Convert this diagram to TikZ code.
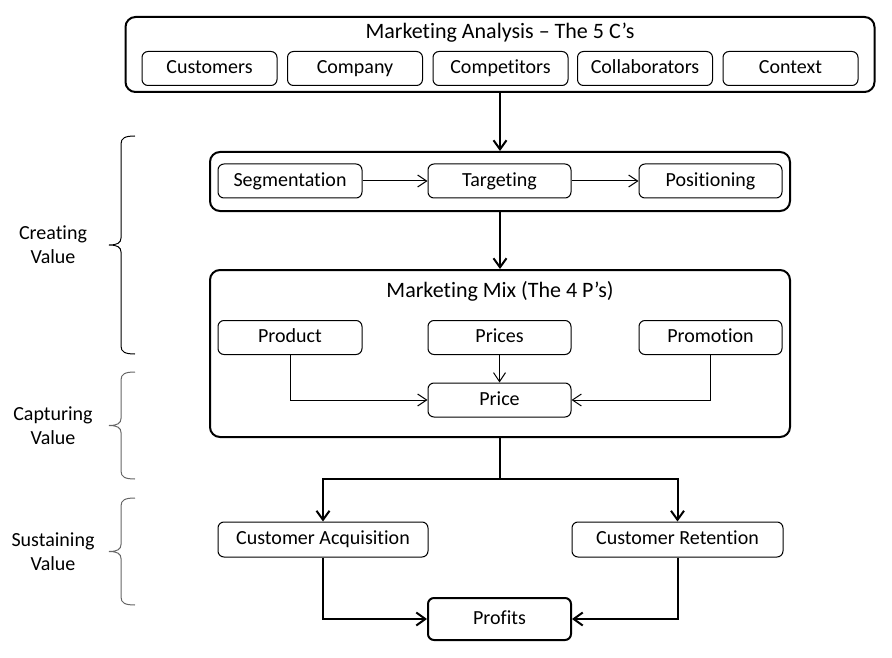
\documentclass[tikz,border=0pt]{standalone}
\usepackage{fontspec}
\setmainfont{Carlito}[Ligatures={NoCommon}]
\usetikzlibrary{arrows.meta}

\begin{document}
\begin{tikzpicture}[x=1pt,y=-1pt]

\tikzstyle{every node}=[font=\fontsize{20}{24}\selectfont,inner sep=0pt,anchor=center];
\tikzstyle{group}=[draw,line width=2pt,rounded corners=10pt];
\tikzstyle{item}=[draw,line width=1pt,rounded corners=6pt,minimum height=34pt,text height=14pt,text depth=4pt];
\tikzstyle{heading}=[font=\fontsize{22}{26}\selectfont];
\tikzstyle{flow}=[line width=2pt,-{Straight Barb[length=9pt,width=13pt]}];
\tikzstyle{link}=[line width=1pt,-{Straight Barb[length=9pt,width=12pt]}];

\useasboundingbox (0,0) rectangle (892,658);

% Draw the group boxes
\node[group,minimum width=749pt,minimum height=75pt] (analysis) at (500,54.5) {};
\node[group,minimum width=580pt,minimum height=59pt] (stp) at (500,181.5) {};
\node[group,minimum width=580pt,minimum height=167pt] (mix) at (500,353.5) {};

\node[heading] (analysistitle) at (500,33) {Marketing Analysis – The 5 C’s};
\node[heading] (mixtitle) at (500,291) {Marketing Mix (The 4 P’s)};

% The 5 C's
\node[item,minimum width=135pt] (customers) at (209.5,68.5) {Customers};
\node[item,minimum width=135pt] (company) at (355,68.5) {Company};
\node[item,minimum width=135pt] (competitors) at (500.5,68.5) {Competitors};
\node[item,minimum width=135pt] (collaborators) at (645,68.5) {Collaborators};
\node[item,minimum width=135pt] (context) at (790.5,68.5) {Context};

% Segmentation, targeting, positioning
\node[item,minimum width=144pt] (seg) at (290,181) {Segmentation};
\node[item,minimum width=143pt] (tgt) at (499.5,181) {Targeting};
\node[item,minimum width=143pt] (pos) at (710.5,181) {Positioning};

% The 4 P's
\node[item,minimum width=144pt] (product) at (290,337.5) {Product};
\node[item,minimum width=143pt] (prices) at (499.5,337.5) {Prices};
\node[item,minimum width=143pt] (promo) at (710.5,337.5) {Promotion};
\node[item,minimum width=143pt] (price) at (499.5,400) {Price};

% Customers and profits
\node[item,minimum width=210pt,minimum height=35pt] (acq) at (323,539.5) {Customer Acquisition};
\node[item,minimum width=211pt,minimum height=35pt] (ret) at (677.5,539.5) {Customer Retention};
\node[item,line width=2pt,minimum width=143pt,minimum height=42pt] (profits) at (499.5,619) {Profits};

\coordinate (split) at (500,479);

% Links between the boxes
\draw[flow] (analysis) -- (stp);
\draw[flow] (stp) -- (mix);
\draw[line width=2pt] (mix.south) -- (split);
\draw[flow] (split) -| (acq.north);
\draw[flow] (split) -| (ret.north);
\draw[flow] (acq.south) |- (profits.west);
\draw[flow] (ret.south) |- (profits.east);

\draw[link] (seg) -- (tgt);
\draw[link] (tgt) -- (pos);
\draw[link] (product.south) |- (price.west);
\draw[link] (prices) -- (price);
\draw[link] (promo.south) |- (price.east);

% Value braces
\foreach \top/\mid/\bot/\col in {136/245/354/black, 372/425.5/479/black!60, 498/551.5/605/black!60}
  \draw[line width=1pt,\col] (135,\top) .. controls (125,\top) and (121,\top+2) .. (121,\top+8)
    -- (121,\mid-7) .. controls (121,\mid-2) and (117,\mid) .. (109,\mid)
    .. controls (117,\mid) and (121,\mid+2) .. (121,\mid+7)
    -- (121,\bot-8) .. controls (121,\bot-2) and (125,\bot) .. (135,\bot);

\node[align=center] (creating) at (53,245) {Creating\\Value};
\node[align=center] (capturing) at (53,426) {Capturing\\Value};
\node[align=center] (sustaining) at (53,552) {Sustaining\\Value};

\end{tikzpicture}
\end{document}
